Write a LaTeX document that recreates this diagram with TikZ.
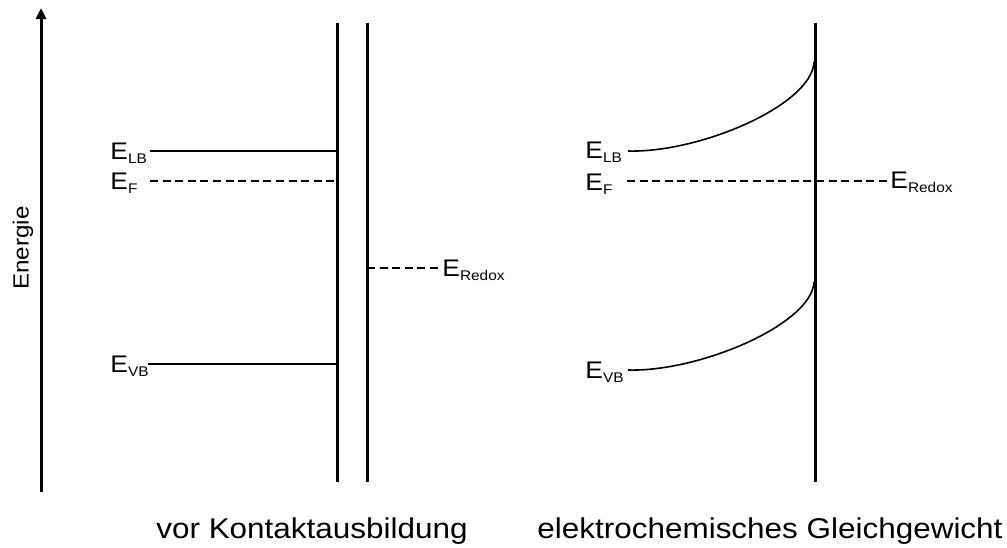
\documentclass[tikz,border=0pt]{standalone}
\usepackage{fontspec}
\setmainfont{Liberation Sans}[FakeStretch=1.1]
\newfontfamily\axisfont{Liberation Sans}[FakeStretch=1.1]
\usetikzlibrary{arrows.meta, positioning, calc}

\newcommand{\lvl}[1]{E\raisebox{-2.4pt}{\fontsize{7}{8}\selectfont #1}}

\begin{document}
\begin{tikzpicture}[x=0.5pt, y=-0.5pt,
    wall/.style={line width=1.5pt},
    band/.style={line width=0.8pt},
    fermi/.style={line width=0.8pt, dash pattern=on 4pt off 2.3pt},
    lbl/.style={font=\fontsize{12}{14}\selectfont, inner sep=0pt, anchor=base west},
    caption/.style={font=\fontsize{14.3}{16}\selectfont, inner sep=0pt, anchor=base}]
    \useasboundingbox (0,0) rectangle (1007,547);

    % Energy axis
    \coordinate (axisBot) at (41,492);
    \coordinate (axisTop) at (41,8);
    \draw[wall, -{Triangle[width=5pt,length=5.5pt]}] (axisBot) -- (axisTop);
    \node[rotate=90, inner sep=0pt, font=\axisfont\fontsize{11}{13}\selectfont] (energie) at (23,248) {Energie};

    % vor Kontaktausbildung
    \coordinate (semiTop) at (337,23);
    \coordinate (semiBot) at (337,482);
    \coordinate (elyTop) at (367,23);
    \coordinate (elyBot) at (367,482);
    \draw[wall] (semiTop) -- (semiBot);
    \draw[wall] (elyTop) -- (elyBot);

    \node[lbl] (lbA) at (110,159) {\lvl{LB}};
    \node[lbl] (fA) at (110,189) {\lvl{F}};
    \node[lbl] (vbA) at (110,372) {\lvl{VB}};
    \node[lbl] (redoxA) at (442,276) {\lvl{Redox}};

    \draw[band] (150,151) -- (semiTop |- 0,151);
    \draw[fermi] (150,181) -- (semiTop |- 0,181);
    \draw[band] (148,364) -- (semiTop |- 0,364);
    \draw[fermi] (elyTop |- 0,268) -- (440,268);

    % elektrochemisches Gleichgewicht
    \coordinate (contTop) at (815,23);
    \coordinate (contBot) at (815,482);
    \draw[wall] (contTop) -- (contBot);

    \node[lbl] (lbB) at (585,158) {\lvl{LB}};
    \node[lbl] (fB) at (585,190) {\lvl{F}};
    \node[lbl] (vbB) at (585,378) {\lvl{VB}};
    \node[lbl] (redoxB) at (890,188) {\lvl{Redox}};

    \draw[band] (628,151) .. controls (700,153) and (812,105) .. (814,62);
    \draw[fermi] (627,181) -- (888,181);
    \draw[band] (628,370) .. controls (700,372) and (812,324) .. (814,282);

    % captions
    \node[caption] (capA) at (312,538) {vor Kontaktausbildung};
    \node[caption] (capB) at (770,538) {elektrochemisches Gleichgewicht};
\end{tikzpicture}
\end{document}
